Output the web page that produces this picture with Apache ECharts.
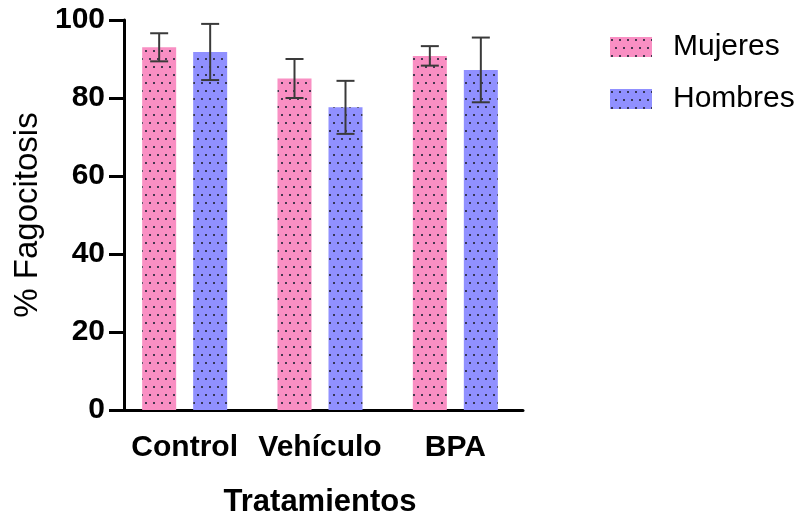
<!DOCTYPE html>
<html>
<head>
<meta charset="utf-8">
<script src="https://cdn.jsdelivr.net/npm/echarts@6/dist/echarts.min.js"></script>
<style>
html,body{margin:0;padding:0;background:#fff;}
#chart{width:801px;height:523px;}
</style>
</head>
<body>
<div id="chart"></div>
<script>
// ---- Data ----
const categories = ['Control', 'Vehículo', 'BPA'];
const seriesNames = ['Mujeres', 'Hombres'];
const mujeres = [93.0, 85.0, 90.8];
const mujeresErr = [3.6, 5.0, 2.5];
const hombres = [91.8, 77.6, 87.2];
const hombresErr = [7.2, 6.8, 8.3];
const yMin = 0, yMax = 100, yInterval = 20;

// ---- Styles ----
const PINK = '#F98FC3';
const BLUE = '#9090FF';
const FONT = '"Liberation Sans", Arial, sans-serif';
const BAR_W = 34;
const BAR_GAP = 0.5;

function dotPattern(bg) {
  const c = document.createElement('canvas');
  c.width = 8; c.height = 16;
  const ctx = c.getContext('2d');
  ctx.fillStyle = bg;
  ctx.fillRect(0, 0, 8, 16);
  ctx.fillStyle = 'rgba(40,40,60,0.85)';
  ctx.fillRect(1, 2, 2, 2);
  ctx.fillRect(5, 10, 2, 2);
  return { image: c, repeat: 'repeat' };
}

const chart = echarts.init(document.getElementById('chart'), null, { renderer: 'canvas' });

const half = (BAR_W + BAR_W * BAR_GAP) / 2;

function errSeries(vals, errs, offset) {
  return {
    type: 'custom',
    z: 10,
    silent: true,
    data: categories.map((c, i) => [i, vals[i], errs[i]]),
    renderItem: function (params, api) {
      const xi = api.value(0), v = api.value(1), e = api.value(2);
      const hi = api.coord([xi, v + e]);
      const lo = api.coord([xi, v - e]);
      const x = hi[0] + offset;
      const cap = 9;
      const st = { stroke: '#3a3a3a', lineWidth: 2 };
      return {
        type: 'group',
        children: [
          { type: 'line', shape: { x1: x, y1: hi[1], x2: x, y2: lo[1] }, style: st },
          { type: 'line', shape: { x1: x - cap, y1: hi[1], x2: x + cap, y2: hi[1] }, style: st },
          { type: 'line', shape: { x1: x - cap, y1: lo[1], x2: x + cap, y2: lo[1] }, style: st }
        ]
      };
    }
  };
}

const option = {
  backgroundColor: '#fff',
  animation: false,
  grid: { left: 117, right: 278, top: 20, bottom: 113 },
  legend: {
    orient: 'vertical',
    left: 605,
    top: 27,
    itemWidth: 42,
    itemHeight: 20,
    itemGap: 22,
    icon: 'rect',
    data: seriesNames,
    textStyle: { fontFamily: FONT, fontSize: 30, color: '#000', padding: [0, 0, 0, 16] }
  },
  xAxis: {
    type: 'category',
    data: categories,
    name: 'Tratamientos',
    nameLocation: 'middle',
    nameGap: 77,
    nameTextStyle: { fontFamily: FONT, fontSize: 31, fontWeight: 'bold', color: '#000' },
    axisLine: { lineStyle: { color: '#000', width: 3 } },
    axisTick: { alignWithLabel: true, length: 15, lineStyle: { color: '#000', width: 3 } },
    axisLabel: { interval: 0, fontFamily: FONT, fontSize: 30, fontWeight: 'bold', color: '#000', margin: 23 },
    splitLine: { show: false }
  },
  yAxis: {
    type: 'value',
    min: yMin, max: yMax, interval: yInterval,
    offset: -7,
    name: '% Fagocitosis',
    nameLocation: 'middle',
    nameRotate: 90,
    nameGap: 79,
    nameTextStyle: { fontFamily: FONT, fontSize: 33, color: '#000' },
    axisLine: { show: true, lineStyle: { color: '#000', width: 3 } },
    axisTick: { show: true, length: 15, lineStyle: { color: '#000', width: 3 } },
    axisLabel: { fontFamily: FONT, fontSize: 30, fontWeight: 'bold', color: '#000', margin: 19 },
    splitLine: { show: false }
  },
  series: [
    {
      name: seriesNames[0], type: 'bar', data: mujeres,
      barWidth: BAR_W, barGap: (BAR_GAP * 100) + '%',
      itemStyle: { color: dotPattern(PINK) }
    },
    {
      name: seriesNames[1], type: 'bar', data: hombres,
      barWidth: BAR_W, barGap: (BAR_GAP * 100) + '%',
      itemStyle: { color: dotPattern(BLUE) }
    },
    errSeries(mujeres, mujeresErr, -half),
    errSeries(hombres, hombresErr, half)
  ]
};
chart.setOption(option);
</script>
</body>
</html>
